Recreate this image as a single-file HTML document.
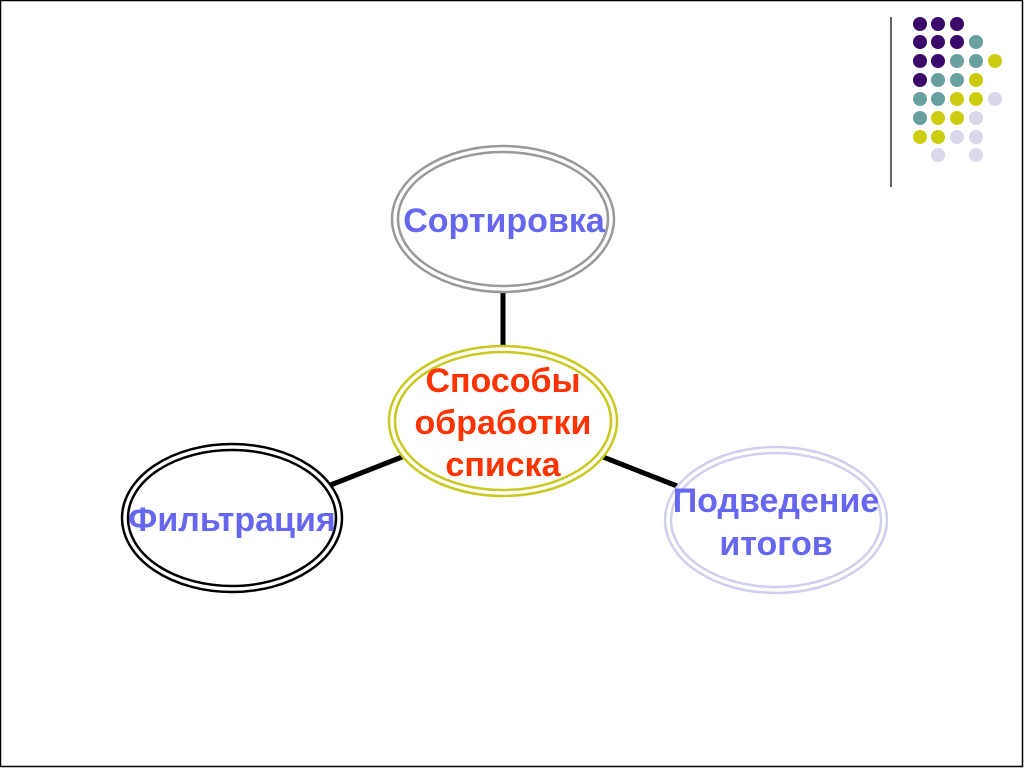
<!DOCTYPE html>
<html><head><meta charset="utf-8"><style>
html,body{margin:0;padding:0;background:#fff;}
svg{display:block}
</style></head><body>
<svg width="1024" height="768" xmlns="http://www.w3.org/2000/svg">
<rect x="0.5" y="0.5" width="1022" height="766" fill="#fff" stroke="#000" stroke-width="1.5"/>
<line x1="891" y1="17" x2="891" y2="187" stroke="#333" stroke-width="1.5"/>
<g>
<circle cx="920" cy="24" r="7" fill="#3a0a6a"/><circle cx="938" cy="24" r="7" fill="#3a0a6a"/><circle cx="957" cy="24" r="7" fill="#3a0a6a"/>
<circle cx="920" cy="42" r="7" fill="#3a0a6a"/><circle cx="938" cy="42" r="7" fill="#3a0a6a"/><circle cx="957" cy="42" r="7" fill="#3a0a6a"/><circle cx="976" cy="42" r="7" fill="#6a9fa0"/>
<circle cx="920" cy="61" r="7" fill="#3a0a6a"/><circle cx="938" cy="61" r="7" fill="#3a0a6a"/><circle cx="957" cy="61" r="7" fill="#6a9fa0"/><circle cx="976" cy="61" r="7" fill="#6a9fa0"/><circle cx="995" cy="61" r="7" fill="#cccc10"/>
<circle cx="920" cy="80" r="7" fill="#3a0a6a"/><circle cx="938" cy="80" r="7" fill="#6a9fa0"/><circle cx="957" cy="80" r="7" fill="#6a9fa0"/><circle cx="976" cy="80" r="7" fill="#cccc10"/>
<circle cx="920" cy="99" r="7" fill="#6a9fa0"/><circle cx="938" cy="99" r="7" fill="#6a9fa0"/><circle cx="957" cy="99" r="7" fill="#cccc10"/><circle cx="976" cy="99" r="7" fill="#cccc10"/><circle cx="995" cy="99" r="7" fill="#d8d8ea"/>
<circle cx="920" cy="118" r="7" fill="#6a9fa0"/><circle cx="938" cy="118" r="7" fill="#cccc10"/><circle cx="957" cy="118" r="7" fill="#cccc10"/><circle cx="976" cy="118" r="7" fill="#d8d8ea"/>
<circle cx="920" cy="137" r="7" fill="#cccc10"/><circle cx="938" cy="137" r="7" fill="#cccc10"/><circle cx="957" cy="137" r="7" fill="#d8d8ea"/><circle cx="976" cy="137" r="7" fill="#d8d8ea"/>
<circle cx="938" cy="155" r="7" fill="#d8d8ea"/><circle cx="976" cy="155" r="7" fill="#d8d8ea"/>
</g>
<g stroke="#000" stroke-width="5">
<line x1="503" y1="290" x2="503" y2="348"/>
<line x1="328" y1="486" x2="407" y2="455"/>
<line x1="598" y1="455" x2="677" y2="486"/>
</g>
<g fill="#fff" stroke-width="2.5">
<ellipse cx="503" cy="219" rx="111" ry="73" stroke="#999"/>
<ellipse cx="503" cy="219" rx="105" ry="67" stroke="#999"/>
<ellipse cx="232" cy="518" rx="110" ry="74" stroke="#000"/>
<ellipse cx="232" cy="518" rx="104" ry="68" stroke="#000"/>
<ellipse cx="776" cy="520" rx="111" ry="73" stroke="#d0d0ec"/>
<ellipse cx="776" cy="520" rx="105" ry="67" stroke="#d0d0ec"/>
<ellipse cx="503" cy="421" rx="114" ry="75" stroke="#c8c820"/>
<ellipse cx="503" cy="421" rx="108" ry="69" stroke="#c8c820"/>
</g>
<g font-family="Liberation Sans, sans-serif" font-weight="bold" text-anchor="middle" font-size="34">
<text x="504" y="232" fill="#6666ee">Сортировка</text>
<text x="232" y="531" fill="#6666ee">Фильтрация</text>
<text x="776" y="512" fill="#6666ee">Подведение</text>
<text x="776" y="555" fill="#6666ee">итогов</text>
<text x="503" y="392" fill="#ff3300">Способы</text>
<text x="503" y="434" fill="#ff3300">обработки</text>
<text x="503" y="476" fill="#ff3300">списка</text>
</g>
</svg>
</body></html>
